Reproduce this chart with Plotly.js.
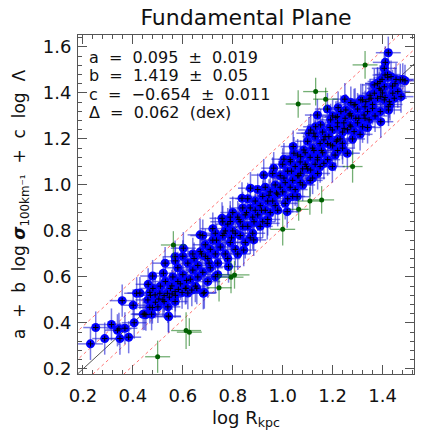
<!DOCTYPE html>
<html>
<head>
<meta charset="utf-8">
<script src="https://cdn.plot.ly/plotly-3.0.1.min.js"></script>
<style>html,body{margin:0;padding:0;background:#fff;}#chart{width:436px;height:436px;}</style>
</head>
<body>
<div id="chart"></div>
<script>
// Fit parameters (as printed on the chart)
const fitText = ["a  =  0.095  ±  0.019", "b  =  1.419  ±  0.05", "c  =  −0.654  ±  0.011", "Δ  =  0.062  (dex)"];
const delta = 0.062;
const lineOffsets = [0, delta, -delta, 3 * delta, -3 * delta];

// Axis ranges
const xRange = [0.18, 1.526];
const yRange = [0.178, 1.652];

// Blue sample (log R_kpc, a + b log sigma + c log Lambda)
const blueX = [
0.230,0.251,0.287,0.314,0.338,0.344,0.348,0.368,0.383,0.405,0.357,0.401,0.447,0.452,0.475,0.543,0.428,0.468,0.461,0.415,
0.468,0.489,0.508,0.525,0.538,0.557,0.569,0.582,0.597,0.613,0.636,0.656,0.686,0.556,0.478,0.441,0.542,0.504,0.525,0.546,0.569,
0.479,0.522,0.529,0.569,0.602,0.669,0.757,0.790,0.837,0.871,0.924,0.964,1.005,1.045,0.682,0.730,0.783,0.844,0.884,0.938,1.018,1.058,
1.423,1.411,1.407,1.410,1.421,1.434,1.398,1.454,1.471,1.481,1.490,1.380,1.367,1.387,1.407,1.441,1.461,1.474,1.447,1.393,1.407,1.427,
1.391,1.423,1.424,1.249,1.273,1.286,1.313,1.333,1.354,1.367,1.213,1.233,1.253,1.266,1.293,1.326,1.340,1.360,1.346,1.320,1.393,
1.199,1.219,1.246,1.179,1.222,1.346,1.380,1.393,1.139,1.112,1.105,1.132,1.152,1.192,1.219,1.042,1.259,1.219,1.239,1.273,1.286,
1.031,1.072,1.085,1.125,1.165,1.192,1.139,1.165,1.199,1.112,1.072,
0.46,0.48,0.50,0.51,0.52,0.53,0.54,0.55,0.47,0.49,
0.56,0.57,0.58,0.59,0.60,0.61,0.62,0.63,0.64,0.65,0.57,0.60,0.62,0.64,0.58,
0.66,0.67,0.68,0.69,0.70,0.71,0.72,0.73,0.74,0.75,0.66,0.68,0.70,0.72,0.74,0.69,0.71,0.73,
0.76,0.77,0.78,0.79,0.80,0.81,0.82,0.83,0.84,0.85,0.76,0.78,0.80,0.82,0.84,0.77,0.79,0.81,0.83,0.85,
0.86,0.87,0.88,0.89,0.90,0.91,0.92,0.93,0.94,0.95,0.86,0.88,0.90,0.92,0.94,0.87,0.89,0.91,0.93,0.95,
0.96,0.97,0.98,0.99,1.00,1.01,1.02,1.03,1.04,1.05,0.96,0.98,1.00,1.02,1.04,0.97,0.99,1.01,1.03,1.05,
1.06,1.07,1.08,1.09,1.10,1.11,1.12,1.13,1.14,1.15,1.06,1.08,1.10,1.12,1.14,1.07,1.09,1.11,1.13,1.15,
1.16,1.17,1.18,1.19,1.20,1.21,1.22,1.23,1.24,1.25,1.16,1.18,1.20,1.22,1.24,
1.26,1.27,1.28,1.29,1.30,1.31,1.32,1.33,1.34,1.35,1.27,1.30,1.33,
1.36,1.38,1.40,1.42,1.44,1.37,1.39,1.41,1.43,1.45,
0.615,0.675,0.735,0.795,0.855,0.915,0.975,1.035,1.095,1.155,1.215,1.275,
0.645,0.705,0.765,0.825,0.885,0.945,1.005,1.065,1.125,1.185,1.245,1.305
];
const blueY = [
0.309,0.380,0.332,0.393,0.368,0.374,0.332,0.377,0.338,0.401,0.497,0.477,0.439,0.436,0.438,0.427,0.530,0.468,0.568,0.529,
0.533,0.522,0.529,0.519,0.529,0.526,0.536,0.546,0.532,0.551,0.543,0.551,0.532,0.561,0.467,0.438,0.430,0.504,0.493,0.512,0.493,
0.604,0.616,0.660,0.688,0.725,0.783,0.855,0.841,0.942,0.986,1.043,1.073,1.112,1.138,0.529,0.601,0.645,0.717,0.761,0.833,0.884,0.949,
1.575,1.533,1.507,1.478,1.468,1.471,1.459,1.459,1.457,1.459,1.453,1.442,1.435,1.420,1.427,1.399,1.406,1.384,1.377,1.384,1.370,1.362,
1.319,1.340,1.326,1.373,1.358,1.348,1.370,1.362,1.377,1.399,1.294,1.319,1.326,1.304,1.290,1.304,1.319,1.333,1.283,1.253,1.275,
1.239,1.253,1.246,1.330,1.336,1.373,1.377,1.413,1.304,1.239,1.225,1.253,1.261,1.283,1.297,1.167,1.138,1.196,1.181,1.253,1.232,
1.101,1.123,1.152,1.225,1.196,1.174,1.109,1.094,1.080,1.065,1.051,
0.50,0.55,0.47,0.56,0.50,0.58,0.47,0.55,0.52,0.49,
0.60,0.52,0.64,0.57,0.61,0.55,0.66,0.59,0.63,0.56,0.67,0.69,0.53,0.70,0.58,
0.65,0.71,0.62,0.74,0.68,0.64,0.76,0.70,0.66,0.73,0.60,0.78,0.58,0.81,0.61,0.69,0.72,0.79,
0.78,0.70,0.83,0.75,0.80,0.72,0.86,0.78,0.82,0.75,0.84,0.68,0.88,0.70,0.90,0.80,0.86,0.79,0.84,0.87,
0.82,0.90,0.79,0.93,0.87,0.82,0.95,0.89,0.85,0.97,0.94,0.86,0.98,0.84,0.93,0.77,0.89,0.91,0.99,0.88,
0.93,1.00,0.89,1.04,0.97,0.92,1.06,0.99,0.95,1.08,1.05,0.96,1.09,0.94,1.02,0.91,0.99,1.01,1.11,0.98,
1.04,1.10,1.00,1.14,1.07,1.02,1.16,1.09,1.05,1.18,1.13,1.07,1.19,1.03,1.12,1.01,1.09,1.12,1.21,1.08,
1.14,1.21,1.11,1.25,1.17,1.13,1.27,1.20,1.16,1.29,1.23,1.18,1.30,1.15,1.23,
1.24,1.31,1.20,1.35,1.27,1.22,1.37,1.29,1.25,1.39,1.26,1.33,1.34,
1.35,1.44,1.40,1.48,1.43,1.30,1.45,1.38,1.35,1.44,
0.585,0.700,0.760,0.770,0.880,0.890,0.965,1.060,1.080,1.150,1.190,1.300,
0.680,0.660,0.790,0.850,0.840,0.955,1.030,1.040,1.150,1.210,1.270,1.290
];
const blueXErr = 0.05;
const blueYErr = 0.07;

// Green (flagged) sample
const greenX = [1.330,1.132,1.172,1.062,1.280,1.156,1.109,1.064,1.000,0.562,0.807,0.793,0.745,0.613,0.626,0.499];
const greenY = [1.522,1.406,1.373,1.352,1.080,0.935,0.930,0.894,0.807,0.739,0.609,0.599,0.553,0.367,0.360,0.253];
const greenXErr = [0.05,0.05,0.05,0.05,0.04,0.05,0.05,0.04,0.05,0.05,0.06,0.05,0.05,0.06,0.05,0.05];
const greenYErr = [0.06,0.06,0.05,0.06,0.07,0.06,0.06,0.05,0.07,0.06,0.06,0.07,0.06,0.08,0.06,0.07];

const FONT = 'DejaVu Sans, Arial, sans-serif';

const traces = [];
lineOffsets.forEach((k, i) => {
  const xs = [xRange[0] - 0.1, xRange[1] + 0.1];
  traces.push({
    x: xs, y: xs.map(v => v + k), mode: 'lines', type: 'scatter', hoverinfo: 'skip',
    line: i === 0 ? {color: '#555', width: 1} : {color: 'rgba(255,70,70,0.75)', width: 1, dash: 'dot'}
  });
});
traces.push({
  x: blueX, y: blueY, type: 'scatter', mode: 'markers',
  marker: {color: '#0000ff', size: 9},
  error_x: {type: 'constant', value: blueXErr, color: 'rgba(30,30,215,0.6)', thickness: 1.5, width: 0},
  error_y: {type: 'constant', value: blueYErr, color: 'rgba(30,30,215,0.6)', thickness: 1.5, width: 0}
});
traces.push({
  x: blueX, y: blueY, type: 'scatter', mode: 'markers', hoverinfo: 'skip',
  marker: {symbol: 'cross-thin-open', size: 4, color: '#000', line: {color: '#000', width: 1}}
});
traces.push({
  x: greenX, y: greenY, type: 'scatter', mode: 'markers',
  marker: {color: '#006000', size: 5},
  error_x: {type: 'data', array: greenXErr, color: 'rgba(0,110,0,0.55)', thickness: 1.3, width: 0},
  error_y: {type: 'data', array: greenYErr, color: 'rgba(0,110,0,0.55)', thickness: 1.3, width: 0}
});

// paper-y of each annotation line
const fitY = [0.934, 0.880, 0.825, 0.771];
const annotations = fitText.map((t, i) => ({
  text: t.replace(/ /g, '\u00a0'), xref: 'paper', yref: 'paper', x: 0.028, y: fitY[i], xanchor: 'left', yanchor: 'middle',
  showarrow: false, font: {family: FONT, size: 16, color: '#111'}
}));

const axisCommon = {
  showline: true, linecolor: '#555', linewidth: 1, mirror: 'ticks', ticks: 'inside', ticklen: 9,
  tickcolor: '#555', tickwidth: 1, showgrid: false, zeroline: false, dtick: 0.2, tickformat: '.1f',
  tickfont: {family: FONT, size: 18, color: '#111'},
  minor: {dtick: 0.04, ticks: 'inside', ticklen: 4, tickcolor: '#555', showgrid: false}
};

const yTitle = 'a\u00a0\u00a0+\u00a0\u00a0b\u00a0\u00a0log\u00a0<b><i>σ</i></b><sub>100km⁻¹</sub>\u00a0\u00a0+\u00a0\u00a0c\u00a0\u00a0log\u00a0\u00a0Λ';

const layout = {
  width: 436, height: 436, showlegend: false,
  margin: {l: 78, r: 22, t: 35, b: 62},
  paper_bgcolor: '#fff', plot_bgcolor: '#fff',
  title: {text: 'Fundamental Plane', x: 0.5, xref: 'paper', y: 0.961, yref: 'container', yanchor: 'middle',
    font: {family: FONT, size: 22, color: '#111'}},
  xaxis: Object.assign({}, axisCommon, {range: xRange, tick0: 0.2, ticklabelstandoff: 5,
    title: {text: 'log R<sub>kpc</sub>', standoff: 6, font: {family: FONT, size: 18, color: '#111'}}}),
  yaxis: Object.assign({}, axisCommon, {range: yRange, tick0: 0.2, ticklabelstandoff: 2,
    title: {text: yTitle, standoff: 12, font: {family: FONT, size: 17, color: '#111'}}}),
  annotations: annotations
};

Plotly.newPlot('chart', traces, layout, {staticPlot: true, displayModeBar: false});
</script>
</body>
</html>
